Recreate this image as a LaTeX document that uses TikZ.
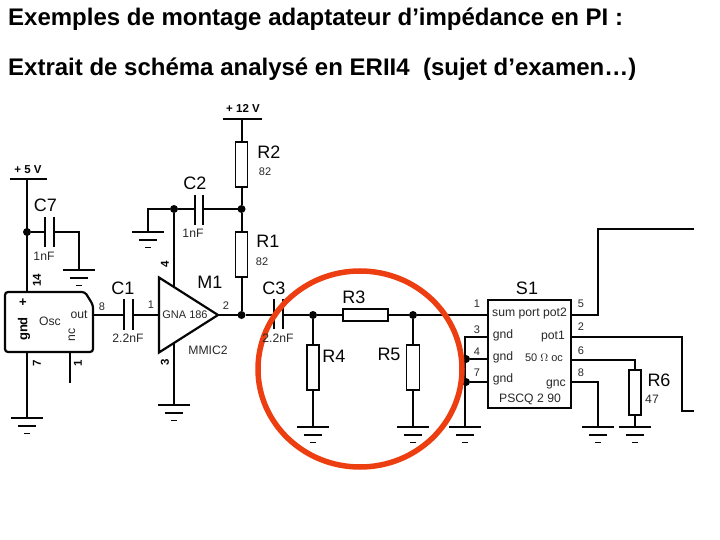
\documentclass[tikz,border=0pt]{standalone}
\usepackage{fontspec}
\setmainfont{Liberation Sans}
\usetikzlibrary{calc}
\definecolor{circlered}{RGB}{236,62,16}
\definecolor{wireblack}{RGB}{5,5,5}
\definecolor{textgrey}{RGB}{40,40,40}
\newcommand{\gndsym}[1]{%
  \draw[gndline] ($(#1)+(-16,0)$) -- ($(#1)+(16,0)$);
  \draw[gndline] ($(#1)+(-9,8)$) -- ($(#1)+(9,8)$);
  \draw[gndline] ($(#1)+(-3,15.5)$) -- ($(#1)+(3,15.5)$);}
\tikzset{
  wire/.style={line width=2pt,wireblack},
  gndline/.style={line width=1.9pt,wireblack},
  resv/.style={draw=wireblack,line width=1.9pt,fill=white,minimum width=12pt,minimum height=45pt,inner sep=0pt,outer sep=0pt},
  resh/.style={draw=wireblack,line width=1.9pt,fill=white,minimum width=45pt,minimum height=12pt,inner sep=0pt,outer sep=0pt},
  plate/.style={line width=2.2pt,wireblack},
  dot/.style={circle,fill=wireblack,minimum size=8pt,inner sep=0pt,outer sep=0pt},
  big/.style={font=\fontsize{18}{18}\selectfont,inner sep=0pt,wireblack},
  small/.style={font=\fontsize{12.2}{12}\selectfont,inner sep=0pt,textgrey},
  tiny/.style={font=\fontsize{11}{10}\selectfont,inner sep=0pt,textgrey},
  pinbold/.style={font=\fontsize{11.5}{10}\bfseries,inner sep=0pt,wireblack},
  titletext/.style={font=\fontsize{24}{24}\bfseries,inner sep=0pt,anchor=base west}
}
\begin{document}
\begin{tikzpicture}[x=1pt,y=-1pt]
  \useasboundingbox (0,0) rectangle (720,540);
  % titles
  \node[titletext] (T1) at (8,26) {Exemples de montage adaptateur d’impédance en PI :};
  \node[titletext] (T2) at (8,76) {Extrait de schéma analysé en ERII4\ \ (sujet d’examen…)};

  % ground points and rails
  \coordinate (G7) at (79,270);
  \coordinate (G2) at (148,232);
  \coordinate (G0) at (27,418);
  \coordinate (G3) at (174,405);
  \coordinate (G4) at (313,427);
  \coordinate (G5) at (413,427);
  \coordinate (GS) at (465,427);
  \coordinate (G8) at (598,427);
  \coordinate (G6) at (635,427);
  \coordinate (V5) at (27,179);
  \coordinate (V12) at (241.5,119);

  % parts
  \node[resv] (R2) at (241.5,164.5) {};
  \node[resv] (R1) at (241.5,254.5) {};
  \node[resh] (R3) at (365.5,315) {};
  \node[resv] (R4) at (313,367.5) {};
  \node[resv,minimum width=13pt] (R5) at (413,367.5) {};
  \node[resv] (R6) at (635,392.5) {};
  \node[dot] (J7) at (27,232) {};
  \node[dot] (J2) at (174,209) {};
  \node[dot] (J1) at (241.5,209) {};
  \node[dot] (JO) at (241.5,315) {};
  \node[dot] (J4) at (313,315) {};
  \node[dot] (J5) at (413,315) {};
  \node[dot] (JA) at (466,359) {};
  \node[dot] (JB) at (466,382) {};
  \coordinate (AT) at (159,277.5);
  \coordinate (AB) at (159,352.5);
  \coordinate (AO) at (218,315);

  % wires
  \draw[wire] (V12) -- (R2.north);
  \draw[wire] (R2.south) -- (J1) -- (R1.north);
  \draw[wire] (R1.south) -- (JO);
  \draw[wire] (V5) -- (27,292);
  \draw[wire] (J7) -- (45,232);
  \draw[wire] (54,232) -- (79,232) -- (G7);
  \draw[wire] (G2) -- (148,209) -- (J2) -- (195,209);
  \draw[wire] (203,209) -- (J1);
  \draw[wire] (J2) -- (174,286);
  \draw[wire] (174,343) -- (G3);
  \draw[wire] (27,352) -- (G0);
  \draw[wire] (70,352) -- (70,383);
  \draw[wire] (93,315) -- (124,315);
  \draw[wire] (133,315) -- (159,315);
  \draw[wire] (AO) -- (JO) -- (274,315);
  \draw[wire] (283,315) -- (J4) -- (R3.west);
  \draw[wire] (R3.east) -- (J5) -- (488,315);
  \draw[wire] (J4) -- (R4.north);
  \draw[wire] (R4.south) -- (G4);
  \draw[wire,line width=2.6pt] (J5) -- (R5.north);
  \draw[wire,line width=2.6pt] (R5.south) -- (G5);
  \draw[wire] (488,337) -- (465,337) -- (GS);
  \draw[wire] (JA) -- (488,359);
  \draw[wire] (JB) -- (488,382);
  \draw[wire] (571,315) -- (598,315) -- (598,229) -- (694,229);
  \draw[wire] (571,337) -- (682,337) -- (682,411) -- (694,411);
  \draw[wire] (571,360) -- (635,360) -- (R6.north);
  \draw[wire] (R6.south) -- (G6);
  \draw[wire] (571,382) -- (598,382) -- (G8);

  % rails, plates
  \draw[line width=2.4pt,wireblack] (10,179) -- (47,179);
  \draw[line width=2.4pt,wireblack] (223,119) -- (262,119);
  \draw[plate] (45,217) -- (45,247);
  \draw[plate] (54,217) -- (54,247);
  \draw[plate] (195,195) -- (195,225);
  \draw[plate] (203,195) -- (203,225);
  \draw[plate] (124,299) -- (124,330);
  \draw[plate] (133,299) -- (133,330);
  \draw[plate] (274,299) -- (274,329);
  \draw[plate] (283,299) -- (283,329);

  % grounds
  \gndsym{G7}
  \gndsym{G2}
  \gndsym{G0}
  \gndsym{G3}
  \gndsym{G4}
  \gndsym{G5}
  \gndsym{GS}
  \gndsym{G8}
  \gndsym{G6}

  % blocks
  \draw[wire,line width=2.2pt,fill=white] (AT) -- (AO) -- (AB) -- cycle;
  \draw[wire,line width=2.2pt,fill=white,rounded corners=3pt] (5,292) -- (85,292) -- (93,305) -- (93,352) -- (5,352) -- cycle;
  \node[draw=wireblack,line width=2.2pt,fill=white,minimum width=83pt,minimum height=108pt,inner sep=0pt] (S1) at (529.5,354) {};

  % the red ring
  \draw[circlered,line width=5.5pt] (360,369) ellipse (102 and 98);

  % labels
  \node[pinbold] (L5) at (28,170) {+ 5 V};
  \node[pinbold] (L12) at (243,108) {+ 12 V};
  \node[big] (LC7) at (45.5,205.5) {C7};
  \node[small] (V7) at (44,256) {1nF};
  \node[big] (LC2) at (195,183) {C2};
  \node[small] (V2) at (193,233) {1nF};
  \node[big] (LR2) at (269,152) {R2};
  \node[tiny] (VR2) at (265,172) {82};
  \node[big] (LR1) at (268,241.5) {R1};
  \node[tiny] (VR1) at (262,262) {82};
  \node[big] (LC1) at (123,288) {C1};
  \node[small] (V1) at (128,338) {2.2nF};
  \node[big] (LC3) at (274,288) {C3};
  \node[small] (V3) at (278,338) {2.2nF};
  \node[big] (LM1) at (210,282) {M1};
  \node[small] (VM) at (208,350) {MMIC2};
  \node[small,font=\fontsize{11}{10}\selectfont] (VG) at (185,315) {GNA 186};
  \node[big] (LR3) at (354,297) {R3};
  \node[big] (LR4) at (334,356) {R4};
  \node[big] (LR5) at (389,354) {R5};
  \node[big] (LS1) at (527,288) {S1};
  \node[big] (LR6) at (659,380) {R6};
  \node[small] (VR6) at (652,399) {47};
  % pin numbers
  \node[pinbold,rotate=90] (P14) at (37,280) {14};
  \node[pinbold,rotate=90] (P7) at (37,363) {7};
  \node[pinbold,rotate=90] (Pc) at (78,363) {1};
  \node[tiny] (Po) at (102,307) {8};
  \node[tiny] (Pa) at (151,305) {1};
  \node[tiny] (Pb) at (226,306) {2};
  \node[pinbold,rotate=90] (P4) at (165,264) {4};
  \node[pinbold,rotate=90] (P3) at (165,362) {3};
  \node[tiny] (S1a) at (477,304) {1};
  \node[tiny] (S3) at (477,330) {3};
  \node[tiny] (S4) at (477,352) {4};
  \node[tiny] (S7) at (477,373) {7};
  \node[tiny] (S5) at (581,304) {5};
  \node[tiny] (S2) at (581,327) {2};
  \node[tiny] (S6) at (581,351) {6};
  \node[tiny] (S8) at (581,373) {8};
  % inside the oscillator
  \node[pinbold,font=\fontsize{13}{10}\bfseries] (Oa) at (23,303) {+};
  \node[pinbold,rotate=90,font=\fontsize{13}{10}\bfseries] (Ob) at (24,329) {gnd};
  \node[small,rotate=90] (Oc) at (72,335) {nc};
  \node[small] (Od) at (50,321) {Osc};
  \node[small] (Oe) at (79,315) {out};
  % inside S1
  \node[small] (Sa) at (529.5,314) {sum port pot2};
  \node[small] (Sb) at (503,335) {gnd};
  \node[small] (Sc) at (503,357) {gnd};
  \node[small] (Sd) at (503,379) {gnd};
  \node[small] (Se) at (553,337) {pot1};
  \node[small,font=\fontsize{11}{10}\selectfont] (Sf) at (544,358) {50 $\Omega$ oc};
  \node[small] (Sg) at (556,384) {gnc};
  \node[small] (Sh) at (530,399) {PSCQ 2 90};
\end{tikzpicture}
\end{document}
